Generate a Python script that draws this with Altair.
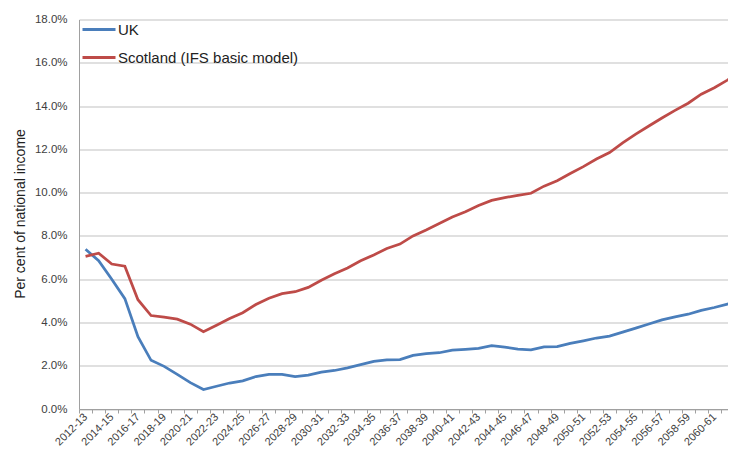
import altair as alt
import pandas as pd

years = [f"{y}-{(y + 1) % 100:02d}" for y in range(2012, 2063)]

uk = [7.38, 6.85, 6.0, 5.1, 3.34, 2.25, 1.97, 1.6, 1.22, 0.9,
      1.05, 1.2, 1.3, 1.5, 1.6, 1.6, 1.5, 1.57, 1.7, 1.78,
      1.9, 2.05, 2.2, 2.27, 2.28, 2.48, 2.56, 2.6, 2.72, 2.76,
      2.8, 2.93, 2.86, 2.77, 2.73, 2.87, 2.88, 3.03, 3.15, 3.28,
      3.37, 3.55, 3.74, 3.93, 4.12, 4.26, 4.38, 4.56, 4.69, 4.85,
      4.97]

scotland = [7.05, 7.2, 6.7, 6.6, 5.05, 4.32, 4.25, 4.15, 3.92, 3.57,
            3.87, 4.18, 4.45, 4.83, 5.12, 5.33, 5.42, 5.62, 5.95, 6.25,
            6.52, 6.85, 7.12, 7.42, 7.62, 8.0, 8.27, 8.57, 8.87, 9.12,
            9.4, 9.64, 9.77, 9.87, 9.97, 10.3, 10.55, 10.88, 11.2, 11.55,
            11.85, 12.3, 12.7, 13.08, 13.45, 13.8, 14.13, 14.55, 14.85, 15.2,
            15.6]

series_names = ["UK", "Scotland (IFS basic model)"]
colors = ["#4A7EBB", "#BE4B48"]
y_ticks = [0, 0.02, 0.04, 0.06, 0.08, 0.10, 0.12, 0.14, 0.16, 0.18]

n = len(years)
df = pd.DataFrame({
    "idx": list(range(n)) * 2,
    "year": years * 2,
    "value": [v / 100 for v in uk + scotland],
    "series": [series_names[0]] * len(uk) + [series_names[1]] * len(scotland),
})

font = "Liberation Sans"
plot_w = 649
band = 13.1
x_max = plot_w / band - 0.5  # last categories run past the right edge, as in the source

x_scale = alt.Scale(domain=[-0.5, x_max], nice=False, zero=False)
label_values = [i for i in range(0, n, 2)]
tick_values = [i - 0.5 for i in range(n + 1)]
year_array = "[" + ",".join(f"'{y}'" for y in years) + "]"

y_enc = alt.Y(
    "value:Q",
    scale=alt.Scale(domain=[0, 0.18]),
    axis=alt.Axis(
        values=y_ticks,
        format=".1%",
        title="Per cent of national income",
        titleFontSize=14,
        titleFontWeight="normal",
        titleColor="#222222",
        titleX=-59,
        titleY=194,
        titleBaseline="middle",
        titleAlign="center",
        labelFontSize=11.5,
        labelColor="#404040",
        labelPadding=12,
        ticks=False,
        domainColor="#a0a0a0",
        gridColor="#c2c2c2",
        gridWidth=1.2,
    ),
)

lines = alt.Chart(df).mark_line(strokeWidth=2.75, clip=True).encode(
    x=alt.X(
        "idx:Q",
        scale=x_scale,
        axis=alt.Axis(
            orient="bottom",
            title=None,
            values=label_values,
            labelExpr=year_array + "[datum.value]",
            labelAngle=-45,
            labelAlign="right",
            labelBaseline="middle",
            labelFontSize=11,
            labelColor="#404040",
            labelPadding=6,
            labelOverlap=False,
            labelFlush=False,
            ticks=False,
            domain=False,
            grid=False,
        ),
    ),
    y=y_enc,
    color=alt.Color(
        "series:N",
        scale=alt.Scale(domain=series_names, range=colors),
        legend=alt.Legend(
            orient="none",
            legendX=12.5,
            legendY=2.5,
            title=None,
            symbolType="M-3,0H3",
            symbolSize=121,
            symbolStrokeWidth=3,
            labelFontSize=15,
            labelColor="#222222",
            labelOffset=11.5,
            labelLimit=0,
            rowPadding=12,
        ),
    ),
)

tick_axis = alt.Chart(df).mark_line(strokeOpacity=0, clip=True).encode(
    x=alt.X(
        "idx:Q",
        scale=x_scale,
        axis=alt.Axis(
            orient="bottom",
            title=None,
            values=tick_values,
            labels=False,
            ticks=True,
            tickSize=4,
            tickColor="#a0a0a0",
            domainColor="#a0a0a0",
            grid=False,
        ),
    ),
    y=alt.Y("value:Q"),
    detail="series:N",
)

chart = alt.layer(tick_axis, lines).resolve_axis(x="independent").properties(
    width=plot_w,
    height=389.5,
    autosize=alt.AutoSizeParams(type="none"),
    padding={"left": 71, "top": 11.5, "right": 0, "bottom": 40},
).configure(
    font=font,
).configure_view(
    stroke=None,
)

chart.save("out.html", embed_options={"renderer": "svg", "actions": False})
